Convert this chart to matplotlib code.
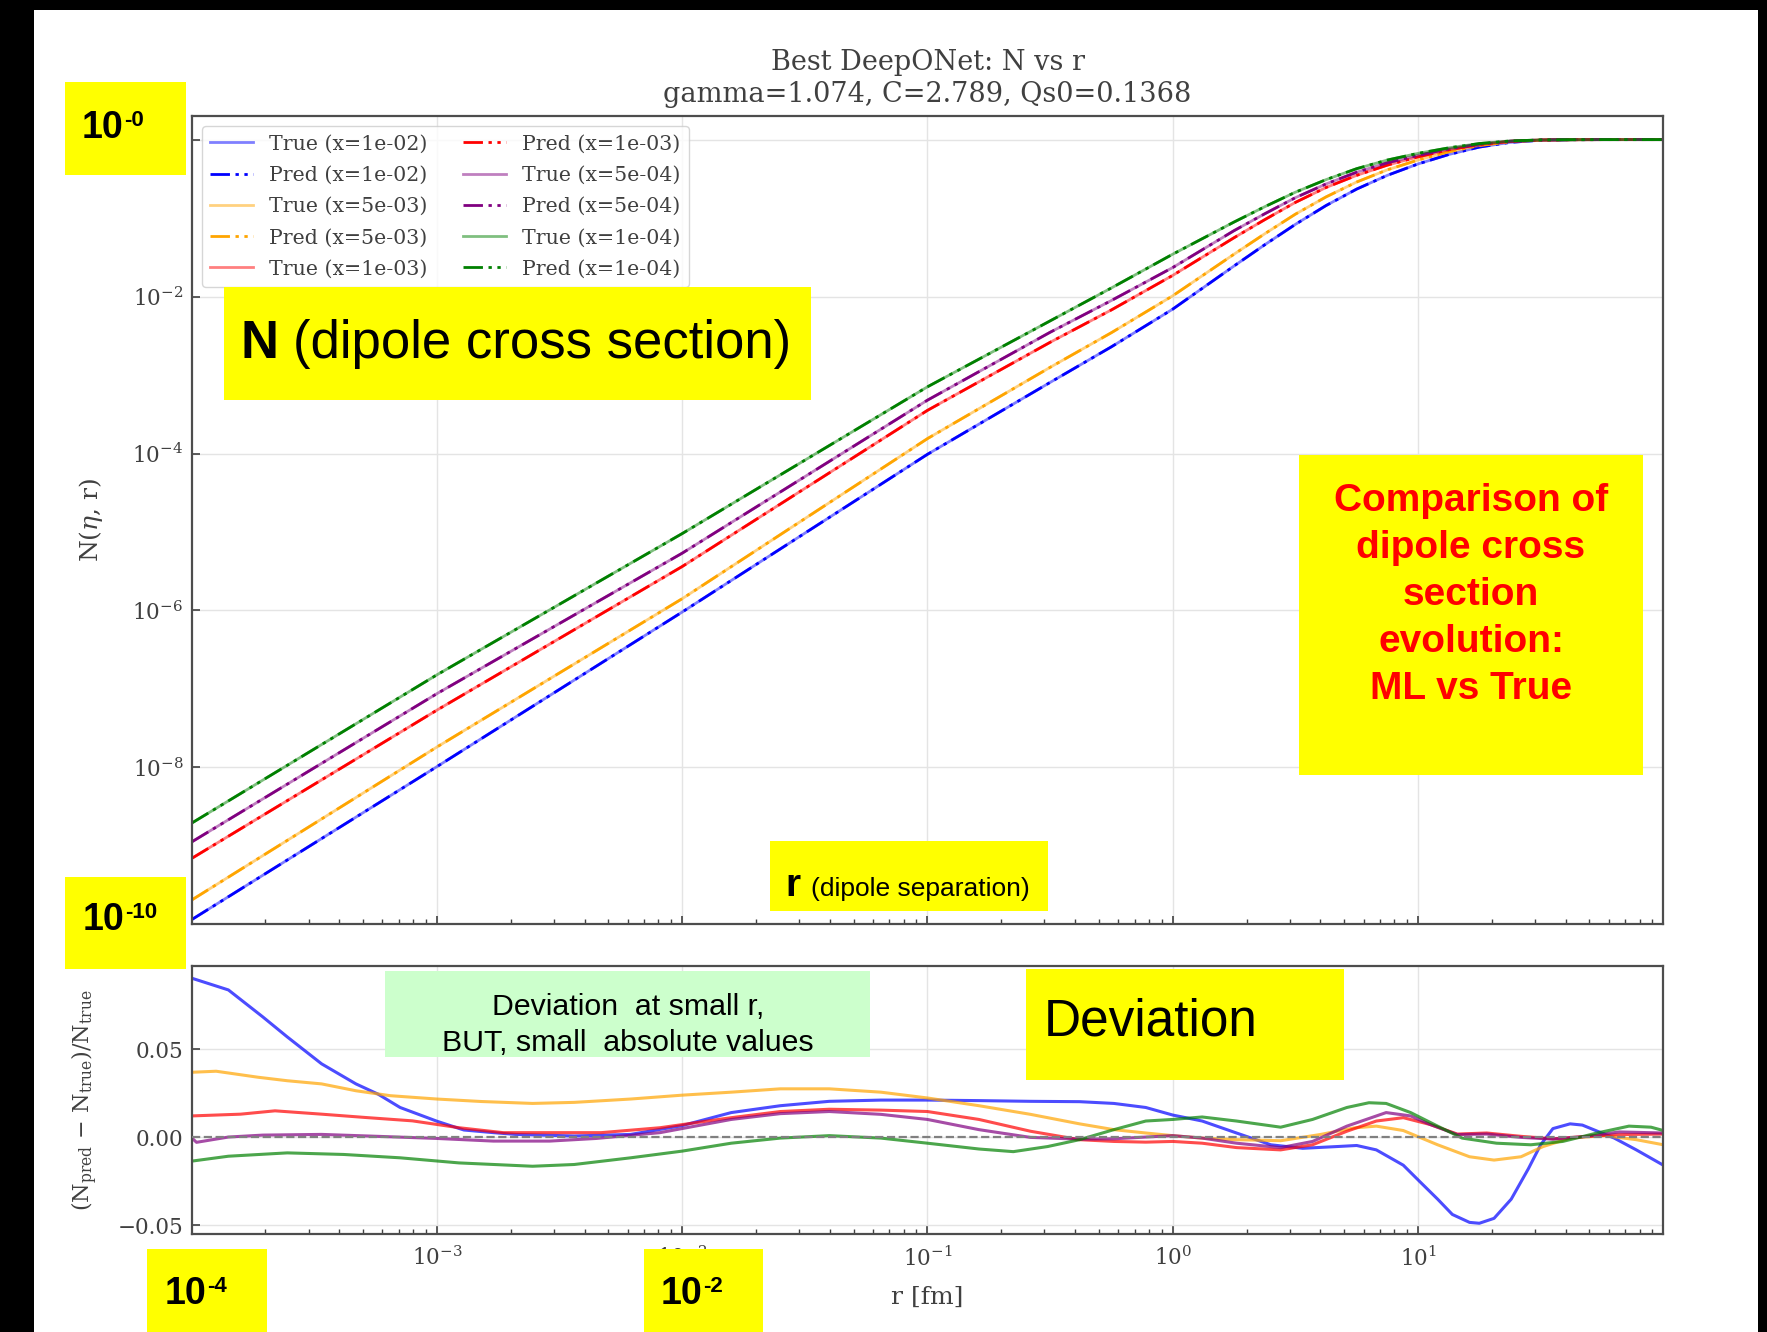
import matplotlib
matplotlib.use('Agg')
import matplotlib.pyplot as plt
import numpy as np
from matplotlib.patches import Rectangle
from matplotlib.ticker import FixedLocator, LogFormatterSciNotation, NullLocator, LogLocator, FuncFormatter

# ------------------------------------------------------------------ data
x_labels = ['1e-02', '5e-03', '1e-03', '5e-04', '1e-04']
colors = ['blue', 'orange', 'red', 'purple', 'green']

# top panel: log10 N(eta, r) at these log10 r
logr_top = [-4.0, -3.0, -2.0, -1.0, -0.5, -0.25, 0.0, 0.25, 0.375, 0.5, 0.625, 0.75, 0.875, 1.0,
            1.125, 1.25, 1.375, 1.5, 1.625, 1.75, 2.0]
log10_N_true_1e02 = [-9.94, -7.99, -6.02, -4.01, -3.094, -2.64, -2.16, -1.61, -1.34, -1.08, -0.84, -0.63,
                     -0.455, -0.31, -0.19, -0.095, -0.035, -0.008, -0.001, 0.0, 0.0]
log10_N_true_5e03 = [-9.69, -7.74, -5.85, -3.81, -2.902, -2.46, -1.99, -1.46, -1.20, -0.95, -0.73, -0.54,
                     -0.385, -0.26, -0.155, -0.075, -0.027, -0.006, -0.001, 0.0, 0.0]
log10_N_true_1e03 = [-9.16, -7.27, -5.44, -3.45, -2.583, -2.17, -1.73, -1.25, -1.02, -0.80, -0.61, -0.455,
                     -0.325, -0.22, -0.13, -0.063, -0.022, -0.005, -0.001, 0.0, 0.0]
log10_N_true_5e04 = [-8.95, -7.06, -5.27, -3.32, -2.455, -2.05, -1.63, -1.16, -0.945, -0.74, -0.565, -0.415,
                     -0.295, -0.20, -0.118, -0.057, -0.020, -0.004, -0.001, 0.0, 0.0]
log10_N_true_1e04 = [-8.71, -6.82, -5.02, -3.15, -2.31, -1.89, -1.46, -1.05, -0.855, -0.67, -0.51, -0.37,
                     -0.26, -0.175, -0.105, -0.05, -0.017, -0.004, -0.001, 0.0, 0.0]
# predictions are indistinguishable from the truth at this scale
log10_N_pred_1e02 = log10_N_true_1e02
log10_N_pred_5e03 = log10_N_true_5e03
log10_N_pred_1e03 = log10_N_true_1e03
log10_N_pred_5e04 = log10_N_true_5e04
log10_N_pred_1e04 = log10_N_true_1e04

# bottom panel: relative deviation, (log10 r, value)
dev_logr_1e02 = [-4.0, -3.85, -3.71, -3.61, -3.47, -3.33, -3.24, -3.15, -3.0, -2.89, -2.77, -2.68, -2.44, -2.21,
                 -2.0, -1.8, -1.6, -1.4, -1.19, -1.0, -0.79, -0.58, -0.38, -0.24, -0.11, 0.0, 0.12, 0.26, 0.40,
                 0.53, 0.67, 0.75, 0.83, 0.94, 1.01, 1.08, 1.14, 1.21, 1.25, 1.31, 1.38, 1.45, 1.50, 1.55, 1.62,
                 1.67, 1.80, 1.89, 2.0]
dev_1e02 = [0.0903, 0.0836, 0.0683, 0.0569, 0.0416, 0.0302, 0.0244, 0.0168, 0.0090, 0.0040, 0.0025, 0.0015,
            0.0006, 0.0015, 0.0065, 0.0139, 0.0178, 0.0203, 0.0210, 0.0210, 0.0207, 0.0203, 0.0201, 0.0191,
            0.0168, 0.0125, 0.0091, 0.0023, -0.0044, -0.0064, -0.0054, -0.0048, -0.0073, -0.0160, -0.0257,
            -0.0353, -0.0440, -0.0485, -0.0490, -0.0462, -0.0353, -0.0180, -0.0044, 0.0048, 0.0075, 0.0068,
            -0.0006, -0.0073, -0.0160]

dev_logr_5e03 = [-4.0, -3.9, -3.73, -3.61, -3.47, -3.33, -3.19, -3.0, -2.82, -2.61, -2.44, -2.21, -2.0, -1.8,
                 -1.6, -1.4, -1.19, -1.0, -0.79, -0.58, -0.38, -0.24, -0.11, 0.0, 0.12, 0.26, 0.44, 0.60, 0.74,
                 0.83, 0.94, 1.08, 1.21, 1.31, 1.42, 1.51, 1.62, 1.76, 1.89, 2.0]
dev_5e03 = [0.0368, 0.0374, 0.0340, 0.0320, 0.0302, 0.0263, 0.0235, 0.0216, 0.0202, 0.0191, 0.0197, 0.0216,
            0.0238, 0.0255, 0.0274, 0.0274, 0.0255, 0.0222, 0.0178, 0.0129, 0.0075, 0.0042, 0.0023, 0.0008,
            -0.0006, -0.0015, -0.0021, 0.0014, 0.0052, 0.0062, 0.0037, -0.0044, -0.0112, -0.0131, -0.0112,
            -0.0054, -0.0006, 0.0008, -0.0015, -0.0044]

dev_logr_1e03 = [-4.0, -3.8, -3.66, -3.47, -3.29, -3.1, -2.91, -2.73, -2.54, -2.33, -2.09, -1.8, -1.6, -1.4,
                 -1.19, -1.0, -0.79, -0.58, -0.38, -0.24, -0.11, 0.0, 0.12, 0.26, 0.44, 0.57, 0.71, 0.83, 0.94,
                 1.05, 1.16, 1.28, 1.42, 1.55, 1.69, 1.82, 2.0]
dev_1e03 = [0.0120, 0.0130, 0.0149, 0.0130, 0.0111, 0.0092, 0.0053, 0.0025, 0.0025, 0.0025, 0.0053, 0.0110,
            0.0145, 0.0158, 0.0153, 0.0145, 0.0100, 0.0033, -0.0015, -0.0025, -0.0029, -0.0025, -0.0035,
            -0.0060, -0.0073, -0.0044, 0.0033, 0.0091, 0.0110, 0.0071, 0.0017, 0.0023, 0.0004, -0.0010,
            0.0004, 0.0014, 0.0017]

dev_logr_5e04 = [-4.0, -3.98, -3.85, -3.71, -3.47, -3.24, -3.0, -2.77, -2.54, -2.35, -2.09, -1.8, -1.6, -1.4,
                 -1.19, -1.0, -0.79, -0.58, -0.38, -0.24, -0.11, 0.0, 0.12, 0.26, 0.44, 0.57, 0.71, 0.87, 0.97,
                 1.05, 1.16, 1.28, 1.42, 1.55, 1.69, 1.82, 2.0]
dev_5e04 = [-0.0004, -0.0030, 0.0000, 0.0011, 0.0015, 0.0004, -0.0008, -0.0023, -0.0023, -0.0008, 0.0025,
            0.0100, 0.0133, 0.0145, 0.0129, 0.0100, 0.0042, -0.0002, -0.0012, -0.0010, 0.0000, 0.0008, -0.0006,
            -0.0035, -0.0060, -0.0025, 0.0062, 0.0139, 0.0120, 0.0071, 0.0014, 0.0017, -0.0002, -0.0012,
            0.0004, 0.0029, 0.0023]

dev_logr_1e04 = [-4.0, -3.85, -3.61, -3.38, -3.15, -2.91, -2.61, -2.44, -2.21, -2.0, -1.8, -1.6, -1.4, -1.19,
                 -1.0, -0.79, -0.65, -0.51, -0.38, -0.24, -0.11, 0.0, 0.12, 0.26, 0.44, 0.57, 0.71, 0.80, 0.87,
                 0.97, 1.08, 1.18, 1.32, 1.46, 1.59, 1.73, 1.86, 1.95, 2.0]
dev_1e04 = [-0.0137, -0.0109, -0.0090, -0.0099, -0.0118, -0.0147, -0.0166, -0.0156, -0.0118, -0.0080, -0.0035,
            -0.0006, 0.0008, -0.0006, -0.0035, -0.0068, -0.0083, -0.0054, -0.0015, 0.0042, 0.0091, 0.0100,
            0.0114, 0.0091, 0.0056, 0.0100, 0.0168, 0.0195, 0.0191, 0.0139, 0.0062, -0.0006, -0.0035, -0.0044,
            -0.0025, 0.0023, 0.0062, 0.0056, 0.0037]

log10_N_true = [log10_N_true_1e02, log10_N_true_5e03, log10_N_true_1e03, log10_N_true_5e04, log10_N_true_1e04]
log10_N_pred = [log10_N_pred_1e02, log10_N_pred_5e03, log10_N_pred_1e03, log10_N_pred_5e04, log10_N_pred_1e04]
dev_logr = [dev_logr_1e02, dev_logr_5e03, dev_logr_1e03, dev_logr_5e04, dev_logr_1e04]
dev_vals = [dev_1e02, dev_5e03, dev_1e03, dev_5e04, dev_1e04]

title_lines = ['Best DeepONet: N vs r', 'gamma=1.074, C=2.789, Qs0=0.1368']

# ------------------------------------------------------------------ style
W, H, DPI = 1767, 1332, 100
TXT = '0.25'
plt.rcParams['font.family'] = ['DejaVu Serif']
plt.rcParams['mathtext.fontset'] = 'dejavuserif'
plt.rcParams['text.color'] = TXT
plt.rcParams['axes.labelcolor'] = TXT
plt.rcParams['xtick.color'] = TXT
plt.rcParams['ytick.color'] = TXT
plt.rcParams['xtick.labelcolor'] = TXT
plt.rcParams['ytick.labelcolor'] = TXT

SANS = ['Liberation Sans', 'DejaVu Sans']

fig = plt.figure(figsize=(W / DPI, H / DPI), dpi=DPI, facecolor='black')


def fx(x):
    return x / W


def fy(y):
    return 1 - y / H


# white slide area
fig.add_artist(Rectangle((fx(34), 0), (1758 - 34) / W, (H - 10) / H, transform=fig.transFigure,
                         facecolor='white', edgecolor='none', zorder=-10))

ax1 = fig.add_axes([fx(191.6), fy(924.4), 1471.7 / W, (924.4 - 116) / H])
ax2 = fig.add_axes([fx(191.6), fy(1234), 1471.7 / W, (1234 - 966) / H])

pred_ls = (0, (7, 2, 1.2, 2, 1.2, 2))
r_top = [10 ** v for v in logr_top]

for i in range(5):
    ax1.plot(r_top, [10 ** v for v in log10_N_true[i]], color=colors[i], alpha=0.5, lw=2.0,
             label=f'True (x={x_labels[i]})')
    ax1.plot(r_top, [10 ** v for v in log10_N_pred[i]], color=colors[i], lw=2.0, ls=pred_ls,
             label=f'Pred (x={x_labels[i]})')

for i in range(5):
    r = [10 ** v for v in dev_logr[i]]
    ax2.plot(r, dev_vals[i], color=colors[i], alpha=0.7, lw=2.2)
ax2.axhline(0.0, color='gray', ls='--', lw=1.6, zorder=5)

for ax in (ax1, ax2):
    ax.set_facecolor('white')
    ax.set_xscale('log')
    ax.set_xlim(1e-4, 1e2)
    ax.xaxis.set_major_locator(FixedLocator([1e-3, 1e-2, 1e-1, 1e0, 1e1]))
    ax.xaxis.set_minor_locator(LogLocator(base=10, subs=np.arange(2, 10), numticks=100))
    ax.xaxis.set_major_formatter(LogFormatterSciNotation())
    ax.grid(True, which='major', color='#e4e4e4', lw=1.0)
    ax.set_axisbelow(True)
    ax.tick_params(which='both', direction='in', top=False, right=False, labelsize=15.5)
    ax.tick_params(which='major', length=6, width=1.2)
    ax.tick_params(which='minor', length=3.5, width=1.0)
    ax.tick_params(axis='x', pad=9)
    ax.tick_params(axis='y', pad=6)
    for sp in ax.spines.values():
        sp.set_color('0.3')
        sp.set_linewidth(1.6)

ax1.set_yscale('log')
ax1.set_ylim(1e-10, 2.0)
ax1.yaxis.set_major_locator(FixedLocator([1e-10, 1e-8, 1e-6, 1e-4, 1e-2, 1e0]))
ax1.yaxis.set_minor_locator(NullLocator())
_sci = LogFormatterSciNotation()


def log_fmt(v, pos):
    # the 10^0 and 10^-10 labels are hidden under the slide's yellow boxes
    if v >= 0.5 or v <= 2e-10:
        return ''
    return _sci(v, pos)


ax1.yaxis.set_major_formatter(FuncFormatter(log_fmt))
ax1.tick_params(axis='x', labelbottom=False)
ax1.set_ylabel(r'N($\eta$, r)', fontsize=18)
ax1.yaxis.set_label_coords(-0.059, 0.5)

ax2.set_ylim(-0.0551, 0.0972)
ax2.yaxis.set_major_locator(FixedLocator([-0.05, 0.0, 0.05]))


def fmt_minus(v, pos):
    return ('%.2f' % v).replace('-', '\u2212')


ax2.yaxis.set_major_formatter(FuncFormatter(fmt_minus))
ax2.set_ylabel(r'(N$_{\rm pred}$ $-$ N$_{\rm true}$)/N$_{\rm true}$', fontsize=16)
ax2.yaxis.set_label_coords(-0.062, 0.5)
ax2.set_xlabel('r [fm]', fontsize=18)
ax2.xaxis.set_label_coords(0.5, -0.192)

leg = ax1.legend(ncol=2, loc='upper left', fontsize=14.75, handlelength=2.1, framealpha=0.8,
                 edgecolor='0.8', fancybox=True, columnspacing=1.7, labelspacing=0.6)

# title
fig.text(fx(927.5), fy(69.9), title_lines[0], ha='center', va='baseline', fontsize=19.5)
fig.text(fx(927.5), fy(102.5), title_lines[1], ha='center', va='baseline', fontsize=19.5)


# ------------------------------------------------------------------ slide annotations
def box(x0, y0, x1, y1, color):
    fig.add_artist(Rectangle((fx(x0), fy(y1)), (x1 - x0) / W, (y1 - y0) / H, transform=fig.transFigure,
                             facecolor=color, edgecolor='none', zorder=20))


def ftext(x, y, s, **kw):
    kw.setdefault('family', SANS)
    kw.setdefault('color', 'black')
    t = fig.text(fx(x), fy(y), s, **kw)
    t.set_zorder(21)
    return t


YEL = '#ffff00'


def power_label(x, y, exp):
    ftext(x, y, '10', fontsize=27, fontweight='bold', va='baseline')
    ftext(x + 42, y - 12, exp, fontsize=16, fontweight='bold', va='baseline')


box(65.4, 82.3, 185.9, 174.7, YEL)
power_label(82, 137.5, '-0')
box(65.4, 876.7, 185.9, 969.1, YEL)
power_label(83, 930, '-10')
box(146.5, 1248.6, 267.1, 1332, YEL)
power_label(165, 1304, '-4')
box(643.5, 1248.6, 763, 1332, YEL)
power_label(661, 1304, '-2')

box(224.3, 287.4, 811.4, 400.1, YEL)
ftext(240, 358, 'N', fontsize=38, fontweight='bold', va='baseline')
ftext(293, 358, '(dipole cross section)', fontsize=38, va='baseline')

box(1299.3, 455.3, 1643, 775.3, YEL)
ftext(1471, 595, 'Comparison of\ndipole cross\nsection\nevolution:\nML vs True', fontsize=28,
      fontweight='bold', color='#ff0000', ha='center', va='center', multialignment='center',
      linespacing=1.39)

box(769.7, 840.7, 1048, 910.5, YEL)
ftext(785, 896, 'r', fontsize=28, fontweight='bold', va='baseline')
ftext(811, 896, '(dipole separation)', fontsize=19, va='baseline')

box(385.4, 971.4, 870, 1057, '#ccffcc')
ftext(627.7, 1024.8, 'Deviation  at small r,\nBUT, small  absolute values', fontsize=21.8,
      ha='center', va='center', multialignment='center', linespacing=1.37)

box(1025.5, 969.1, 1344.4, 1079.6, YEL)
ftext(1043.5, 1035, 'Deviation', fontsize=37, va='baseline')

fig.savefig('out.png', dpi=DPI, facecolor='black')
